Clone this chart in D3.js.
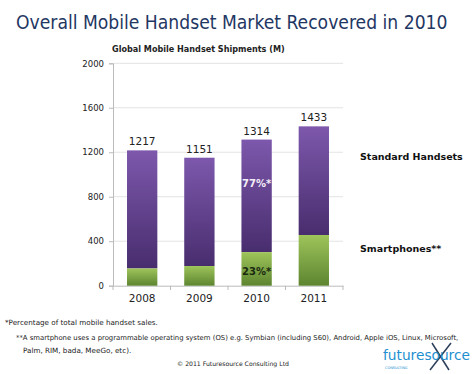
<!DOCTYPE html>
<html><head><meta charset="utf-8">
<script src="https://cdn.jsdelivr.net/npm/d3@7"></script>
<style>body{margin:0;background:#fff}svg{display:block}</style>
</head><body>
<script>
const years = ["2008","2009","2010","2011"];
const totals = [1217, 1151, 1314, 1433];
const smartphones = [155, 177, 302, 456];
const yTicks = [0, 400, 800, 1200, 1600, 2000];
const pctLabels = [null, null, {std:"77%*", sm:"23%*"}, null];

const W=474,H=374;
const svg=d3.select("body").append("svg").attr("width",W).attr("height",H);
const defs=svg.append("defs");
const gp=defs.append("linearGradient").attr("id","gp").attr("x1",0).attr("y1",0).attr("x2",0).attr("y2",1);
gp.append("stop").attr("offset","0%").attr("stop-color","#7d58ac");
gp.append("stop").attr("offset","100%").attr("stop-color","#482d6e");
const gg=defs.append("linearGradient").attr("id","gg").attr("x1",0).attr("y1",0).attr("x2",0).attr("y2",1);
gg.append("stop").attr("offset","0%").attr("stop-color","#9ec45a");
gg.append("stop").attr("offset","100%").attr("stop-color","#5d8530");

const font="'DejaVu Sans', Verdana, sans-serif";
function fitText(t, w){
  let fs=+t.attr("font-size");
  const len=t.node().getComputedTextLength();
  if(len>0) t.attr("font-size", fs*w/len);
}
const title=svg.append("text").attr("x",16).attr("y",29).attr("font-family","'DejaVu Sans Condensed','DejaVu Sans',sans-serif").attr("font-size",22)
  .attr("fill","#1f3763").text("Overall Mobile Handset Market Recovered in 2010");
fitText(title,432);
const sub=svg.append("text").attr("x",112).attr("y",52).attr("font-family",font).attr("font-size",9.5).attr("font-weight","bold")
  .attr("fill","#222").text("Global Mobile Handset Shipments (M)");
fitText(sub,173);

const x=d3.scaleBand().domain(years).range([113,343]).paddingInner(0.47).paddingOuter(0.245);
const y=d3.scaleLinear().domain([0,2000]).range([285.7,63.3]);

// grid
svg.append("g").selectAll("line").data(yTicks.filter(d=>d>0)).join("line")
  .attr("x1",113).attr("x2",343).attr("y1",d=>y(d)).attr("y2",d=>y(d)).attr("stroke","#e3e3e3");
// y axis
const ya=svg.append("g").attr("transform","translate(113,0)").call(d3.axisLeft(y).tickValues(yTicks).tickFormat(d3.format("d")).tickSize(4).tickPadding(5));
ya.selectAll("path,line").attr("stroke","#bbb");
ya.selectAll("text").attr("font-family",font).attr("font-size",8.5).attr("fill","#222");
// x axis
const xa=svg.append("g").attr("transform","translate(0,285.7)").call(d3.axisBottom(x).tickSize(0).tickPadding(9));
xa.select("path").attr("stroke","#bbb");
xa.selectAll("text").attr("font-family",font).attr("font-size",10.5).attr("fill","#222");
svg.append("g").selectAll("line").data(d3.range(years.length+1)).join("line")
  .attr("x1",i=>113+i*(230/4)).attr("x2",i=>113+i*(230/4)).attr("y1",285.7).attr("y2",290).attr("stroke","#bbb");

// bars
const bars=svg.append("g");
years.forEach((yr,i)=>{
  bars.append("rect").attr("x",x(yr)).attr("width",x.bandwidth()).attr("y",y(totals[i])).attr("height",y(smartphones[i])-y(totals[i])).attr("fill","url(#gp)");
  bars.append("rect").attr("x",x(yr)).attr("width",x.bandwidth()).attr("y",y(smartphones[i])).attr("height",y(0)-y(smartphones[i])).attr("fill","url(#gg)");
  svg.append("text").attr("x",x(yr)+x.bandwidth()/2).attr("y",y(totals[i])-5).attr("text-anchor","middle")
    .attr("font-family",font).attr("font-size",10.5).attr("fill","#222").text(totals[i]);
  const p=pctLabels[i];
  if(p){
    svg.append("text").attr("x",x(yr)+x.bandwidth()/2).attr("y",y(890)).attr("text-anchor","middle")
      .attr("font-family",font).attr("font-size",10).attr("font-weight","bold").attr("fill","#f2ecf8").text(p.std);
    svg.append("text").attr("x",x(yr)+x.bandwidth()/2).attr("y",y(100)).attr("text-anchor","middle")
      .attr("font-family",font).attr("font-size",10).attr("font-weight","bold").attr("fill","#1a2a10").text(p.sm);
  }
});

// legend labels
svg.append("text").attr("x",360).attr("y",160).attr("font-family",font).attr("font-size",9.5).attr("font-weight","bold").attr("fill","#111").text("Standard Handsets");
svg.append("text").attr("x",360).attr("y",252).attr("font-family",font).attr("font-size",9.5).attr("font-weight","bold").attr("fill","#111").text("Smartphones**");

// footnotes
const fn=svg.append("g").attr("font-family",font).attr("font-size",7.2).attr("fill","#222");
fn.append("text").attr("x",5).attr("y",325).text("*Percentage of total mobile handset sales.");
const f2=fn.append("text").attr("x",16).attr("y",340).attr("font-size",7.2).text("**A smartphone uses a programmable operating system (OS) e.g. Symbian (including S60), Android, Apple iOS, Linux, Microsoft,");
fitText(f2,442);
fn.append("text").attr("x",23).attr("y",353).text("Palm, RIM, bada, MeeGo, etc).");
const cp=fn.append("text").attr("x",233).attr("y",366).attr("font-size",7.2).attr("text-anchor","middle").text("© 2011 Futuresource Consulting Ltd");
fitText(cp,112);

// logo
const lg=svg.append("g");
lg.append("line").attr("x1",432).attr("y1",343).attr("x2",449).attr("y2",370).attr("stroke","#2c3e5a").attr("stroke-width",1.5);
lg.append("line").attr("x1",451).attr("y1",343).attr("x2",430).attr("y2",370).attr("stroke","#2c3e5a").attr("stroke-width",1.5);
const lt=lg.append("text").attr("x",383).attr("y",360).attr("font-family",font).attr("font-size",17).attr("fill","#1e8fd0").text("futuresource");
fitText(lt,87);
lg.append("text").attr("x",385).attr("y",369).attr("font-family",font).attr("font-size",3.5).attr("fill","#1e8fd0").text("CONSULTING");
</script>
</body></html>
